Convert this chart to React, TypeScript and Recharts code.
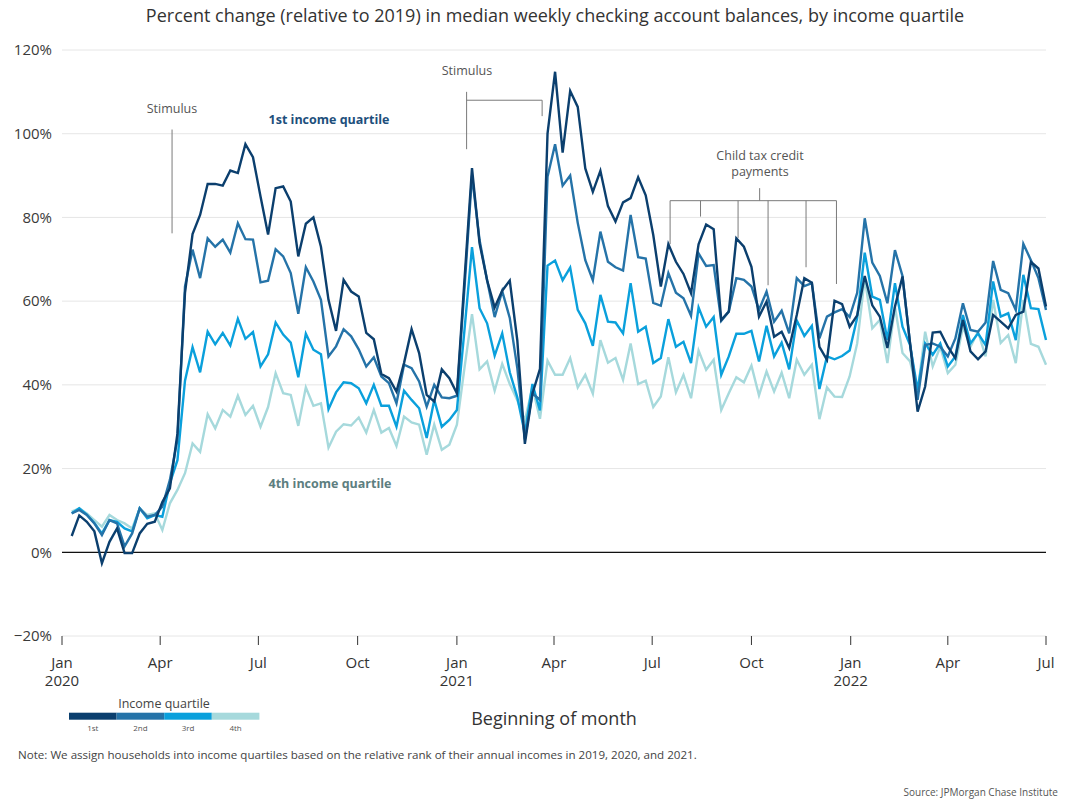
import { CartesianGrid, Line, LineChart, ReferenceLine, XAxis, YAxis } from "recharts";

const DAY_MS = 86400000;
const START = Date.UTC(2020, 0, 1);
const END = Date.UTC(2022, 6, 1);
const FIRST_WEEK = Date.UTC(2020, 0, 10);

const QUARTILES = ["1st", "2nd", "3rd", "4th"];
const COLORS = ["#0b3f6e", "#2573a8", "#0aa0dc", "#a6d9dc"];

// weekly % change vs 2019
const q1 = [
  3.9, 8.8, 7.3, 5.0, -2.6, 2.5, 5.7, -0.2, -0.2, 4.5,
  6.8, 7.3, 12.0, 15.3, 28.4, 62.0, 76.0, 80.6, 88.0, 88.0,
  87.6, 91.2, 90.6, 97.5, 94.4, 85.0, 75.9, 87.0, 87.4, 83.8,
  70.7, 78.5, 80.0, 73.0, 60.3, 52.9, 65.1, 62.3, 61.1, 52.4,
  50.9, 42.6, 41.6, 38.4, 45.2, 53.3, 47.6, 37.6, 36.0, 43.7,
  41.6, 38.0, 65.0, 91.8, 73.8, 65.0, 58.5, 62.5, 64.9, 50.6,
  25.9, 37.9, 43.8, 100.0, 114.8, 95.5, 110.2, 106.4, 91.7, 86.1,
  91.1, 82.7, 79.0, 83.6, 84.6, 89.6, 85.3, 75.8, 63.5, 73.6,
  69.4, 66.5, 61.9, 73.6, 78.3, 77.2, 55.5, 57.5, 75.0, 73.0,
  68.2, 56.3, 59.9, 51.5, 52.7, 48.8, 56.7, 65.5, 64.4, 49.1,
  46.0, 60.1, 59.3, 53.9, 56.6, 66.0, 59.0, 56.3, 48.8, 58.7,
  65.9, 49.9, 33.6, 39.6, 52.5, 52.7, 49.1, 46.4, 55.5, 48.0,
  46.1, 48.0, 56.7, 55.1, 53.5, 56.7, 57.5, 69.4, 67.8, 58.7,
];
const q2 = [
  9.3, 10.1, 8.9, 6.9, 4.1, 7.7, 6.9, 1.4, 4.5, 10.5,
  8.5, 8.9, 10.9, 17.3, 26.9, 63.5, 72.3, 65.5, 75.0, 73.0,
  74.7, 71.6, 78.6, 74.8, 74.7, 64.5, 64.9, 72.4, 70.7, 66.7,
  57.0, 68.1, 64.7, 60.3, 46.8, 49.2, 53.3, 51.6, 48.5, 44.4,
  46.6, 42.0, 40.4, 35.6, 44.8, 44.0, 40.8, 34.8, 40.0, 37.0,
  36.8, 37.4, 63.0, 90.0, 74.6, 65.0, 56.2, 62.4, 56.0, 44.0,
  27.0, 38.0, 36.4, 89.7, 97.5, 87.6, 90.0, 78.7, 69.8, 65.0,
  76.6, 69.4, 68.1, 67.3, 80.6, 70.5, 70.2, 59.6, 58.9, 66.7,
  62.0, 60.7, 56.5, 71.4, 68.4, 68.6, 55.3, 57.5, 65.5, 65.1,
  63.5, 57.9, 62.3, 55.1, 57.7, 52.3, 65.5, 63.6, 64.3, 51.1,
  56.3, 57.3, 58.1, 56.2, 62.0, 79.8, 69.2, 66.0, 59.5, 72.2,
  66.0, 49.9, 36.4, 49.5, 49.9, 49.1, 46.8, 51.1, 59.5, 53.1,
  52.7, 54.9, 69.6, 62.7, 61.9, 57.9, 73.7, 69.8, 65.5, 57.9,
];
const q3 = [
  9.3, 10.5, 9.0, 7.0, 4.5, 7.7, 7.3, 5.7, 5.0, 10.5,
  8.1, 8.9, 8.5, 16.5, 22.0, 41.0, 49.0, 43.0, 52.7, 49.7,
  52.4, 49.4, 55.8, 51.0, 52.6, 44.4, 47.3, 54.9, 52.0, 50.1,
  41.8, 52.2, 48.4, 47.3, 34.2, 38.2, 40.6, 40.4, 39.2, 35.6,
  40.0, 35.0, 35.0, 30.0, 38.6, 36.4, 34.4, 27.3, 36.4, 30.0,
  31.6, 34.0, 53.0, 72.9, 58.3, 54.7, 47.0, 52.3, 43.0, 37.0,
  28.3, 40.2, 33.9, 68.5, 69.7, 65.0, 68.0, 57.9, 54.7, 49.3,
  61.5, 55.1, 54.9, 52.3, 64.3, 52.7, 53.9, 45.2, 46.4, 55.7,
  49.1, 50.3, 45.2, 58.5, 53.9, 56.2, 42.4, 46.8, 52.2, 52.2,
  52.9, 45.6, 54.1, 46.8, 50.1, 43.7, 55.4, 51.7, 54.1, 39.0,
  46.8, 46.1, 46.9, 48.2, 56.0, 71.6, 61.1, 60.3, 50.7, 64.3,
  53.9, 49.5, 38.8, 49.9, 47.2, 49.9, 44.4, 46.8, 56.7, 49.9,
  52.3, 49.5, 64.7, 56.3, 57.1, 50.7, 66.3, 58.3, 58.1, 50.7,
];
const q4 = [
  9.7, 10.5, 9.3, 7.7, 6.1, 8.9, 7.7, 6.9, 5.7, 10.5,
  8.9, 9.3, 5.3, 11.7, 14.9, 18.9, 26.0, 24.0, 33.0, 29.6,
  34.0, 32.4, 37.4, 32.8, 35.0, 30.0, 34.7, 42.8, 38.0, 37.6,
  30.2, 39.4, 35.0, 35.6, 25.0, 28.8, 30.6, 30.3, 32.2, 28.6,
  34.0, 28.6, 29.7, 25.4, 32.4, 31.0, 30.5, 23.3, 30.5, 24.5,
  25.7, 30.5, 44.0, 56.9, 43.7, 45.6, 38.6, 45.0, 40.2, 36.3,
  31.5, 39.4, 31.9, 45.8, 42.4, 42.4, 46.4, 39.4, 42.4, 37.9,
  50.7, 45.3, 46.4, 41.2, 49.9, 40.2, 41.0, 34.7, 37.2, 46.6,
  38.2, 42.4, 36.8, 48.2, 43.6, 46.0, 34.0, 38.0, 41.8, 40.6,
  44.6, 37.5, 43.2, 38.4, 42.9, 36.8, 46.0, 42.4, 44.8, 31.8,
  39.4, 37.2, 37.1, 42.0, 49.9, 65.5, 53.5, 55.5, 45.2, 58.7,
  47.6, 45.6, 38.4, 52.7, 44.4, 49.1, 42.8, 44.8, 53.9, 49.1,
  52.7, 46.8, 60.3, 50.0, 51.9, 45.2, 60.3, 49.8, 49.1, 44.8,
];

const monthTicks = [
  "2020-01-01", "2020-04-01", "2020-07-01", "2020-10-01",
  "2021-01-01", "2021-04-01", "2021-07-01", "2021-10-01",
  "2022-01-01", "2022-04-01", "2022-07-01",
];
const yTicks = [-20, 0, 20, 40, 60, 80, 100, 120];
const MONTHS = ["Jan", "Feb", "Mar", "Apr", "May", "Jun", "Jul", "Aug", "Sep", "Oct", "Nov", "Dec"];

const series = [q1, q2, q3, q4];
const data = q1.map((_, i) => {
  const row: Record<string, number> = { t: FIRST_WEEK + i * 7 * DAY_MS };
  series.forEach((s, k) => (row["q" + (k + 1)] = s[i]));
  return row;
});

// annotation brackets: [day from Jan 1 2020, pct] -> [day, pct]
const brackets: [number, number, number, number][] = [
  [102, 101, 102, 76.2],
  [375, 110, 375, 96.3],
  [375, 108, 445, 108],
  [445, 108, 445, 104.2],
  [646.6, 87, 646.6, 84],
  [563.6, 84, 717.8, 84],
  [563.6, 84, 563.6, 73.6],
  [591.8, 84, 591.8, 80.2],
  [626.6, 84, 626.6, 75.1],
  [654.4, 84, 654.4, 63.8],
  [689.6, 84, 689.6, 68.1],
  [717.8, 84, 717.8, 64.1],
];
const dayTs = (d: number) => START + d * DAY_MS;

function MonthTick(props: any) {
  const { x, y, payload } = props;
  const d = new Date(payload.value);
  const m = d.getUTCMonth();
  return (
    <g>
      <text x={x} y={y + 21} textAnchor="middle" fontSize={15} fill="#333">
        {MONTHS[m]}
      </text>
      {m === 0 && (
        <text x={x} y={y + 39} textAnchor="middle" fontSize={15} fill="#333">
          {d.getUTCFullYear()}
        </text>
      )}
    </g>
  );
}

const font = "'Open Sans', sans-serif";

export default function App() {
  return (
    <div
      style={{
        position: "absolute",
        left: 0,
        top: 0,
        width: 1070,
        height: 800,
        background: "#fff",
        fontFamily: font,
      }}
    >
      <LineChart
        width={1070}
        height={800}
        data={data}
        margin={{ top: 50, right: 24, bottom: 104, left: 0 }}
        style={{ fontFamily: font }}
      >
        <CartesianGrid vertical={false} stroke="#e6e6e6" />
        <XAxis
          dataKey="t"
          type="number"
          domain={[START, END]}
          ticks={monthTicks.map((s) => Date.parse(s))}
          tick={<MonthTick />}
          tickSize={9}
          tickLine={{ stroke: "#333" }}
          axisLine={false}
          height={60}
          interval={0}
        />
        <YAxis
          domain={[-20, 120]}
          ticks={yTicks}
          tickFormatter={(v) => (v < 0 ? "\u2212" : "") + Math.abs(v) + "%"}
          axisLine={false}
          tickLine={false}
          width={62}
          tickMargin={4}
          tick={{ fontSize: 15, fill: "#3a3a3a" }}
        />
        <ReferenceLine y={0} stroke="#111" strokeWidth={1.3} />
        {brackets.map(([d1, v1, d2, v2], i) => (
          <ReferenceLine
            key={i}
            segment={[
              { x: dayTs(d1), y: v1 },
              { x: dayTs(d2), y: v2 },
            ]}
            stroke="#7a7a7a"
            strokeWidth={1}
            ifOverflow="visible"
          />
        ))}
        {[3, 2, 1, 0].map((k) => (
          <Line
            key={k}
            dataKey={"q" + (k + 1)}
            name={QUARTILES[k]}
            stroke={COLORS[k]}
            strokeWidth={2.4}
            dot={false}
            type="linear"
            isAnimationActive={false}
          />
        ))}
      </LineChart>
      <svg
        width={1070}
        height={800}
        style={{ position: "absolute", left: 0, top: 0, pointerEvents: "none", fontFamily: font }}
      >
        <text x={555} y={15} textAnchor="middle" dominantBaseline="central" fontSize={18} fill="#333">
          Percent change (relative to 2019) in median weekly checking account balances, by income quartile
        </text>
        <g fontSize={12.5} fill="#555" textAnchor="middle" dominantBaseline="central">
          <text x={172} y={108}>Stimulus</text>
          <text x={467} y={70}>Stimulus</text>
          <text x={760} y={155}>Child tax credit</text>
          <text x={760} y={171}>payments</text>
        </g>
        <text x={329} y={119} textAnchor="middle" dominantBaseline="central" fontSize={12.5} fontWeight={700} fill="#1d4f7c">
          1st income quartile
        </text>
        <text x={330} y={483} textAnchor="middle" dominantBaseline="central" fontSize={12.5} fontWeight={700} fill="#5d7e80">
          4th income quartile
        </text>
        <text x={554} y={718} textAnchor="middle" dominantBaseline="central" fontSize={18} fill="#333">
          Beginning of month
        </text>
        <text x={164} y={703} textAnchor="middle" dominantBaseline="central" fontSize={12.5} fill="#444">
          Income quartile
        </text>
        {QUARTILES.map((q, k) => (
          <g key={q}>
            <rect x={69 + k * 47.6} y={712.7} width={47.6} height={7} fill={COLORS[k]} />
            <text x={92.8 + k * 47.6} y={727} textAnchor="middle" dominantBaseline="central" fontSize={8} fill="#555">
              {q}
            </text>
          </g>
        ))}
        <text x={18} y={754} dominantBaseline="central" fontSize={11.6} fill="#444">
          Note: We assign households into income quartiles based on the relative rank of their annual incomes in 2019, 2020, and 2021.
        </text>
        <text x={1058} y={792} textAnchor="end" dominantBaseline="central" fontSize={10} fill="#555">
          Source: JPMorgan Chase Institute
        </text>
      </svg>
    </div>
  );
}
